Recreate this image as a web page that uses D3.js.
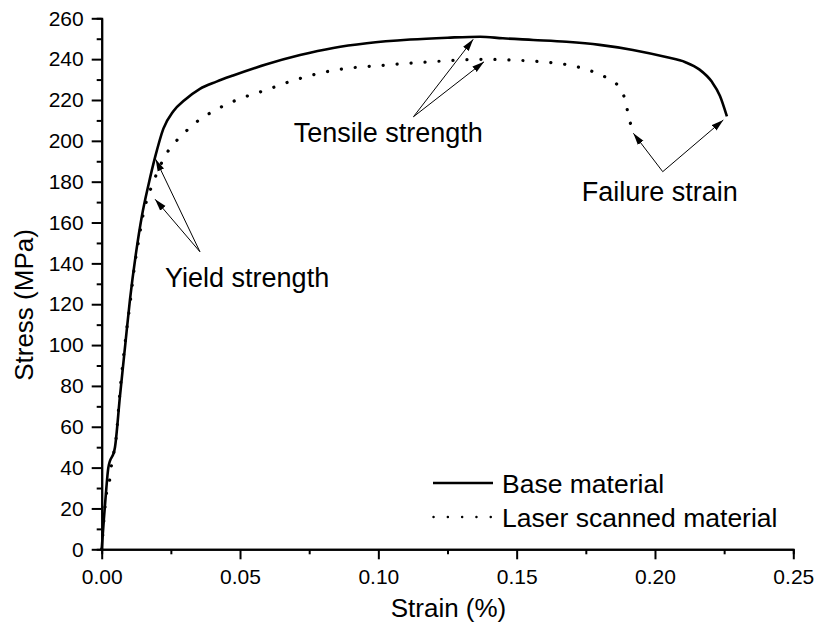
<!DOCTYPE html>
<html>
<head>
<meta charset="utf-8">
<script src="https://cdn.jsdelivr.net/npm/d3@7"></script>
<style>
    body { margin: 0; background: #fff; }
    text { font-family: "Liberation Sans", Arial, sans-serif; fill: #000; }
</style>
</head>
<body>
<script>
// Base material curve
var baseStrain = [0, 0.0008, 0.0015, 0.0024, 0.0048, 0.0066, 0.0085, 0.0102, 0.0125, 0.0145,
    0.0170, 0.0193, 0.0223, 0.0259, 0.0300, 0.0355, 0.0415, 0.0475, 0.0596, 0.0717,
    0.0837, 0.0958, 0.1115, 0.1250, 0.1368, 0.1450, 0.1560, 0.1680, 0.1800, 0.1920,
    0.2040, 0.2110, 0.2160, 0.2205, 0.2235, 0.2260];
var baseStress = [0, 15, 27, 40, 50, 75, 100, 122, 146, 163,
    179, 192, 206, 214.5, 220, 225.5, 229, 232, 237.5, 242,
    245.5, 247.8, 249.6, 250.5, 251, 250.2, 249.4, 248.5, 247, 244.5,
    241, 238.5, 235, 229, 222, 212];

// Laser scanned material curve
var laserStrain = [0, 0.0018, 0.0030, 0.0036, 0.0050, 0.0068, 0.0088, 0.0104, 0.0118, 0.0132,
    0.0150, 0.0163, 0.0180, 0.0199, 0.0240, 0.0270, 0.0307, 0.0350, 0.0390, 0.0488,
    0.0597, 0.0680, 0.0837, 0.1018, 0.1223, 0.1374, 0.1560, 0.1717, 0.1777, 0.1838,
    0.1874, 0.1892, 0.1904, 0.1916];
var laserStress = [0, 28, 35, 42, 52, 80, 105, 122, 138, 150,
    164, 171, 177.5, 184, 195, 200, 205, 210, 213.5, 220,
    225, 229, 234.5, 237, 239, 239.9, 239, 236.3, 233.8, 229.8,
    225.7, 220, 212.6, 206];

var xTicks = [0, 0.05, 0.10, 0.15, 0.20, 0.25];
var xMinor = [0.025, 0.075, 0.125, 0.175, 0.225];
var yTicks = d3.range(0, 261, 20);
var yMinor = d3.range(10, 260, 20);

var legendLabels = ["Base material", "Laser scanned material"];

// annotations: label, label position and arrow start (data units), arrow tips
var noteLabels = ["Yield strength", "Tensile strength", "Failure strain"];
var noteText = [[0.0229, 128.5], [0.0694, 199.5], [0.1735, 170.6]];
var noteFrom = [[0.0355, 145.7], [0.1127, 211.8], [0.2028, 184.9]];
var noteTips = [
    [[0.0195, 191], [0.0193, 171.4]],
    [[0.1343, 249.7], [0.1382, 238.7]],
    [[0.1922, 203.7], [0.2247, 210.2]]
];

function drawChart() {
    var width = 819, height = 628;
    var left = 101.7, right = 793.3, top = 18.3, bottom = 549.3;

    var svg = d3.select("body").append("svg")
        .attr("width", width)
        .attr("height", height);

    var x = d3.scaleLinear().domain([0, 0.25]).range([left, right]);
    var y = d3.scaleLinear().domain([0, 260]).range([bottom, top]);

    svg.append("defs").append("marker")
        .attr("id", "head")
        .attr("markerUnits", "userSpaceOnUse")
        .attr("viewBox", "0 -4 12 8")
        .attr("refX", 12).attr("refY", 0)
        .attr("markerWidth", 12).attr("markerHeight", 8)
        .attr("orient", "auto")
        .append("path")
        .attr("d", "M0,-3.5L12,0L0,3.5Z")
        .attr("fill", "#000");

    // minor ticks first, major axes drawn over them
    var xm = svg.append("g").attr("transform", "translate(0," + bottom + ")")
        .call(d3.axisBottom(x).tickValues(xMinor).tickSize(5).tickFormat(""));
    var ym = svg.append("g").attr("transform", "translate(" + left + ",0)")
        .call(d3.axisLeft(y).tickValues(yMinor).tickSize(5).tickFormat(""));

    var xa = svg.append("g").attr("transform", "translate(0," + bottom + ")")
        .call(d3.axisBottom(x).tickValues(xTicks).tickSize(10).tickSizeOuter(0)
            .tickPadding(10).tickFormat(d3.format(".2f")));
    var ya = svg.append("g").attr("transform", "translate(" + left + ",0)")
        .call(d3.axisLeft(y).tickValues(yTicks).tickSize(10).tickSizeOuter(0)
            .tickPadding(8));

    [xm, ym, xa, ya].forEach(function (g) {
        g.selectAll("path.domain").attr("stroke", "#000").attr("stroke-width", 2);
        g.selectAll(".tick line").attr("stroke", "#000").attr("stroke-width", 2);
        g.selectAll("text").style("font-size", "21px")
            .style("font-family", "'Liberation Sans', Arial, sans-serif").attr("fill", "#000");
    });

    svg.append("text")
        .attr("x", (left + right) / 2 + 1)
        .attr("y", 617)
        .attr("text-anchor", "middle")
        .style("font-size", "26px")
        .text("Strain (%)");

    svg.append("text")
        .attr("transform", "translate(33,305) rotate(-90)")
        .attr("text-anchor", "middle")
        .style("font-size", "26px")
        .text("Stress (MPa)");

    var line = d3.line()
        .x(function (d) { return x(d[0]); })
        .y(function (d) { return y(d[1]); })
        .curve(d3.curveMonotoneX);

    var laser = d3.zip(laserStrain, laserStress);
    var base = d3.zip(baseStrain, baseStress);

    svg.append("path")
        .datum(laser)
        .attr("d", line)
        .attr("fill", "none")
        .attr("stroke", "#000")
        .attr("stroke-width", 3.2)
        .attr("stroke-linecap", "round")
        .attr("stroke-dasharray", "0.1,13.9");

    svg.append("path")
        .datum(base)
        .attr("d", line)
        .attr("fill", "none")
        .attr("stroke", "#000")
        .attr("stroke-width", 2.6)
        .attr("stroke-linejoin", "round");

    // annotations
    noteLabels.forEach(function (label, i) {
        noteTips[i].forEach(function (tip) {
            svg.append("line")
                .attr("x1", x(noteFrom[i][0])).attr("y1", y(noteFrom[i][1]))
                .attr("x2", x(tip[0])).attr("y2", y(tip[1]))
                .attr("stroke", "#000")
                .attr("stroke-width", 1)
                .attr("marker-end", "url(#head)");
        });
        svg.append("text")
            .attr("x", x(noteText[i][0]))
            .attr("y", y(noteText[i][1]))
            .style("font-size", "27px")
            .text(label);
    });

    // legend
    var legend = svg.append("g").attr("transform", "translate(433,483)");
    legend.append("line")
        .attr("x1", 0).attr("x2", 60).attr("y1", 0).attr("y2", 0)
        .attr("stroke", "#000").attr("stroke-width", 2.6);
    legend.append("line")
        .attr("x1", 0.5).attr("x2", 60).attr("y1", 34).attr("y2", 34)
        .attr("stroke", "#000").attr("stroke-width", 2.4)
        .attr("stroke-linecap", "round")
        .attr("stroke-dasharray", "0.1,14.2");
    legend.selectAll("text.leg")
        .data(legendLabels)
        .enter().append("text")
        .attr("class", "leg")
        .attr("x", 69)
        .attr("y", function (d, i) { return 9.5 + i * 34; })
        .style("font-size", "26.5px")
        .text(function (d) { return d; });
}

drawChart();
</script>
</body>
</html>
